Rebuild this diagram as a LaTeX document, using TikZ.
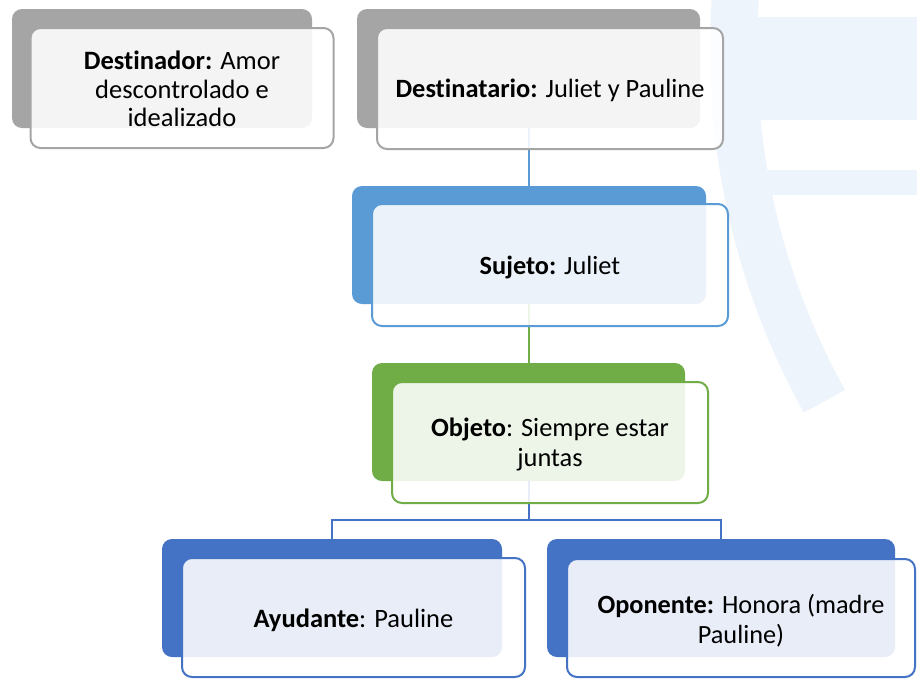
\documentclass[tikz,border=0pt]{standalone}
\usepackage{fontspec}
\setmainfont{Carlito}[Ligatures=NoCommon]
\definecolor{gback}{HTML}{A5A5A5}
\definecolor{blueA}{HTML}{5B9BD5}
\definecolor{greenA}{HTML}{70AD47}
\definecolor{blueB}{HTML}{4472C4}
\definecolor{wm}{HTML}{EDF4FB}
\pgfdeclarelayer{bg}
\pgfsetlayers{bg,main}
\tikzset{
  backbox/.style={fill=#1, rounded corners=10pt, inner sep=0pt},
  frontbox/.style={draw=#1, line width=2pt, fill=white, fill opacity=0.88,
     rounded corners=10pt, inner sep=0pt},
  txt/.style={align=center, inner sep=0pt, text=black},
  link/.style={draw=#1, line width=2pt}
}
\begin{document}
\begin{tikzpicture}[x=1pt,y=-1pt]
\useasboundingbox (0,0) rectangle (917,678);
% back boxes
\node[backbox=gback, minimum width=300pt, minimum height=119pt] (b1) at (162,68.5) {};
\node[backbox=gback, minimum width=343pt, minimum height=119pt] (b2) at (528.5,68.5) {};
\node[backbox=blueA, minimum width=354pt, minimum height=118pt] (b3) at (529,245) {};
\node[backbox=greenA, minimum width=313pt, minimum height=118pt] (b4) at (528.5,422) {};
\node[backbox=blueB, minimum width=340pt, minimum height=118pt] (b5) at (332,598) {};
\node[backbox=blueB, minimum width=348pt, minimum height=118pt] (b6) at (721,598) {};
% front boxes
\node[frontbox=gback, minimum width=303pt, minimum height=120pt] (f1) at (182,88) {};
\node[frontbox=gback, minimum width=346pt, minimum height=121pt] (f2) at (550,88.5) {};
\node[frontbox=blueA, minimum width=356pt, minimum height=122pt] (f3) at (550,265) {};
\node[frontbox=greenA, minimum width=316pt, minimum height=121pt] (f4) at (550,442.5) {};
\node[frontbox=blueB, minimum width=343pt, minimum height=119pt] (f5) at (353.5,617.5) {};
\node[frontbox=blueB, minimum width=348pt, minimum height=118pt] (f6) at (741,618) {};
% texts
\node[txt, font=\fontsize{26.5}{28.5}\selectfont] (t1) at ([yshift=-1pt]f1.center)
  {\textbf{Destinador:} Amor\\descontrolado e\\idealizado};
\node[txt, font=\fontsize{26.4}{29}\selectfont] (t2) at ([yshift=-2pt]f2.center)
  {\textbf{Destinatario:} Juliet y Pauline};
\node[txt, font=\fontsize{26.3}{30}\selectfont] (t3) at ([yshift=-2pt]f3.center)
  {\textbf{Sujeto:} Juliet};
\node[txt, font=\fontsize{26.4}{30}\selectfont] (t4) at ([yshift=-2pt]f4.center)
  {\textbf{Objeto}: Siempre estar\\juntas};
\node[txt, font=\fontsize{26.5}{30}\selectfont] (t5) at ([yshift=-3pt]f5.center)
  {\textbf{Ayudante}: Pauline};
\node[txt, font=\fontsize{26.3}{30}\selectfont] (t6) at ([yshift=-3pt]f6.center)
  {\textbf{Oponente:} Honora (madre\\Pauline)};
\coordinate (j) at (528,520);
\begin{pgfonlayer}{bg}
  \fill[white] (0,0) rectangle (917,678);
  \fill[wm] (757,17) rectangle (917,120);
  \fill[wm] (763,170) rectangle (917,195);
  \draw[wm, line width=47pt] plot[domain=151:187, samples=60] ({1458+724.5*cos(\x)}, {50+724.5*sin(\x)});
  \draw[link=blueA] (b2.south) -- (b2.south |- b3.north);
  \draw[link=greenA] (b3.south) -- (b3.south |- b4.north);
  \draw[link=blueB] (b4.south) -- (b4.south |- j);
  \draw[link=blueB] (b5.north) -- (b5.north |- j) -- (b6.north |- j) -- (b6.north);
\end{pgfonlayer}
\end{tikzpicture}
\end{document}
